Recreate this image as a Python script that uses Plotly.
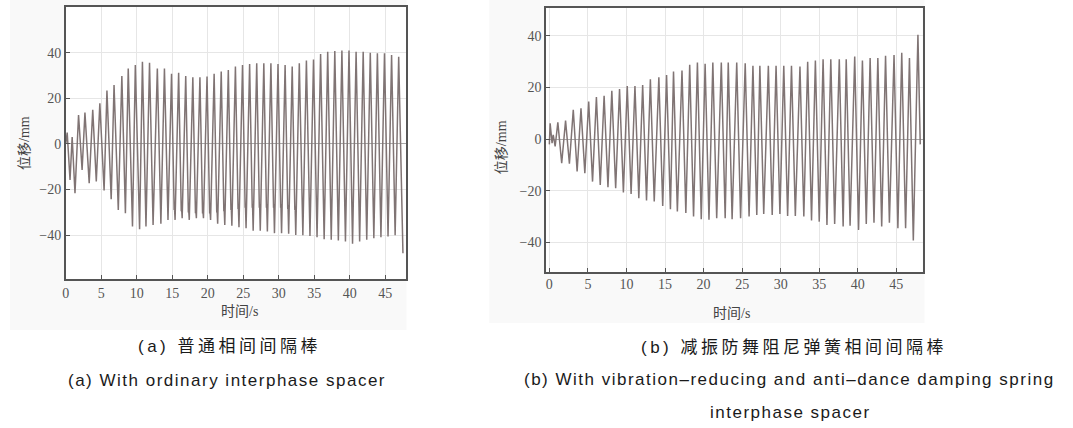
import plotly.graph_objects as go

# ---------------- data ----------------
# (a) ordinary interphase spacer
a_peak_t = [0.2, 0.9, 1.8, 2.7, 3.8, 4.8, 5.8, 6.8, 7.9, 8.8, 9.8, 10.8, 11.8, 12.9, 13.9, 14.9,
            15.9, 16.9, 17.9, 18.9, 19.9, 20.9, 21.9, 22.9, 23.9, 24.9, 25.9, 26.9, 27.9, 28.9,
            29.9, 30.9, 31.9, 32.9, 33.9, 34.9, 35.9, 36.9, 37.9, 38.9, 39.9, 40.9, 41.9, 42.9,
            43.9, 44.9, 45.9, 46.9]
a_peak = [5, 3, 12.7, 13.7, 15, 17.8, 23.4, 25.8, 29.8, 33, 34.6, 36, 35.6, 33, 33, 30.7,
          31.2, 29.8, 29.2, 29.2, 29.5, 30.7, 31.7, 32.4, 33.9, 34.6, 35, 35.3, 35.3, 35.3,
          35, 34.6, 33.9, 35.3, 36.5, 37, 39.4, 40.4, 40.7, 40.9, 40.9, 40.4, 40.4, 40,
          39.7, 39.7, 39, 38.2]
a_trough_t = [0.6, 1.3, 2.3, 3.3, 4.3, 5.4, 6.4, 7.4, 8.4, 9.4, 10.4, 11.3, 12.3, 13.4, 14.4,
              15.4, 16.4, 17.4, 18.4, 19.4, 20.4, 21.4, 22.4, 23.4, 24.4, 25.4, 26.4, 27.4,
              28.4, 29.4, 30.4, 31.4, 32.4, 33.4, 34.4, 35.4, 36.4, 37.4, 38.4, 39.4, 40.4,
              41.4, 42.4, 43.4, 44.4, 45.4, 46.4, 47.5]
a_trough = [-15.8, -21.6, -11.4, -17.2, -16.5, -20.4, -24.2, -28.9, -30.4, -36.2, -37.4, -36.2,
            -35.5, -35, -33.3, -33.3, -32.6, -33.3, -32.6, -32.6, -33.3, -35, -35.5, -35.9,
            -36.5, -36.9, -38, -38, -38.4, -39.1, -39.1, -39.4, -39.9, -40, -40.3, -40.9,
            -41.8, -42, -42.3, -42.8, -43.8, -42.8, -42, -41.3, -40.9, -40.6, -40, -47.9]
# mid-level "shoulder" marks on the rising / falling strokes (None = not visible)
a_rise_shoulder = [None] * 8 + [15.6, 15.6, 15.6, 16, 17.8, 19, 20, 20, 20.7, 21.9, 23, 23.6,
                                22, 20, 19, 18, 17, 16.6, 17, 17.5, 17.8, 18.5, 19, 19.5, 20,
                                20.4, 19.3, 19, 17.5, 16.7, 16, 15.6, 15.6, 15.6, 15.6, 16, 16,
                                None, None, None]
a_fall_shoulder = [None] * 15 + [-29, -29.5, -30, -30.4, -30.5, -30.5, -30, -29.5, -29, -28.5,
                                 -28, -28, -28, -28, -28, -28, -28.5, -29] + [None] * 15
a_ends_t = [0.0]
a_ends = [0.0]

# (b) vibration-reducing and anti-dance damping spring interphase spacer
b_peak_t = [0.1, 0.5, 1.1, 2.1, 3.1, 4.1, 5.1, 6.1, 7.1, 8.1, 9.1, 10.1, 11.1, 12.1, 13.1, 14.2,
            15.2, 16.1, 17.2, 18.2, 19.2, 20.2, 21.2, 22.3, 23.2, 24.3, 25.4, 26.4, 27.3, 28.4,
            29.4, 30.4, 31.4, 32.5, 33.5, 34.5, 35.5, 36.5, 37.6, 38.5, 39.6, 40.6, 41.6, 42.6,
            43.6, 44.7, 45.7, 46.7, 47.8]
b_peak = [6.2, 1.7, 6.5, 7.2, 11.4, 12, 14.6, 16.3, 16.8, 18.8, 19.4, 20.6, 20.6, 21, 23.2, 24,
          24.9, 26.2, 26.6, 28.8, 29.7, 29.2, 29.7, 29.7, 29.7, 29.7, 29.4, 28.4, 28.4, 28.4,
          28.4, 28.4, 28.4, 28.1, 30, 30.5, 31, 31, 31, 31, 32, 30.5, 31.4, 31.4, 32.3, 32.6,
          33.5, 31.4, 40.4]
b_trough_t = [0.35, 0.75, 1.6, 2.6, 3.6, 4.6, 5.6, 6.6, 7.6, 8.6, 9.6, 10.6, 11.6, 12.6, 13.6,
              14.7, 15.7, 16.6, 17.7, 18.7, 19.7, 20.7, 21.7, 22.8, 23.7, 24.8, 25.9, 26.9,
              27.8, 28.9, 29.9, 30.9, 31.9, 33.0, 34.0, 35.0, 36.0, 37.0, 38.1, 39.0, 40.1,
              41.1, 42.1, 43.1, 44.1, 45.2, 46.2, 47.2]
b_trough = [-1.5, -2.8, -9.3, -9.5, -12.5, -13.2, -16.4, -17.7, -18.6, -19, -20.6, -21.2, -22.8,
            -23.7, -24.1, -25.8, -27.1, -28, -28.6, -29.9, -31, -31.2, -30.6, -30.6, -31, -30.6,
            -29.9, -29.3, -28.9, -29.3, -28.9, -29.7, -29.7, -29.9, -31.5, -31.9, -33.2, -32.8,
            -33.8, -33.5, -35.1, -32.8, -32.3, -33.8, -32.3, -34.5, -34.5, -39.2]
b_ends_t = [0.0, 48.1]
b_ends = [-2.0, -2.0]

x_ticks = [0, 5, 10, 15, 20, 25, 30, 35, 40, 45]
y_ticks = [-40, -20, 0, 20, 40]
x_title = "时间/s"
y_title = "位移/mm"
cap_a_cn = "(a) 普通相间间隔棒"
cap_a_en = "(a) With ordinary interphase spacer"
cap_b_cn = "(b) 减振防舞阻尼弹簧相间间隔棒"
cap_b_en = "(b) With vibration–reducing and anti–dance damping spring"
cap_b_en2 = "interphase spacer"

# ---------------- build the traces ----------------
def merge(groups):
    pts = []
    for ts, vs in groups:
        for t, v in zip(ts, vs):
            if v is not None:
                pts.append((t, v))
    pts.sort()
    return [p[0] for p in pts], [p[1] for p in pts]


def shoulder_pts(times, vals, sign):
    ts, vs = [], []
    for t, v in zip(times, vals):
        if v is None:
            continue
        ts += [t - 0.13, t - 0.09]
        vs += [v, v - sign * 1.6]
    return ts, vs


rs_t, rs_v = shoulder_pts(a_peak_t, a_rise_shoulder, 1)
fs_t, fs_v = shoulder_pts(a_trough_t, a_fall_shoulder, -1)
ax_t, ax_v = merge([(a_peak_t, a_peak), (a_trough_t, a_trough), (rs_t, rs_v), (fs_t, fs_v),
                    (a_ends_t, a_ends)])
bx_t, bx_v = merge([(b_peak_t, b_peak), (b_trough_t, b_trough), (b_ends_t, b_ends)])

W, H = 1073, 428
line_col = "#807474"

fig = go.Figure()
fig.add_trace(go.Scatter(x=ax_t, y=ax_v, mode="lines", xaxis="x", yaxis="y",
                         line=dict(color=line_col, width=1.5), showlegend=False))
fig.add_trace(go.Scatter(x=bx_t, y=bx_v, mode="lines", xaxis="x2", yaxis="y2",
                         line=dict(color=line_col, width=1.5), showlegend=False))

tick_font = dict(family="Liberation Serif, Times New Roman, serif", size=14, color="#555555")
common_x = dict(tickvals=x_ticks, showgrid=True, gridcolor="#e6e6e6", gridwidth=1,
                showline=True, linecolor="#555555", linewidth=1.5, mirror=True,
                ticks="inside", ticklen=4, tickcolor="#555555", tickfont=tick_font,
                zeroline=False)
common_y = dict(tickvals=y_ticks, showgrid=True, gridcolor="#e6e6e6", gridwidth=1,
                showline=True, linecolor="#555555", linewidth=1.5, mirror=True,
                ticks="inside", ticklen=4, tickcolor="#555555", tickfont=tick_font,
                zeroline=True, zerolinecolor="#a8a8a8", zerolinewidth=1)

def px(x):
    return x / W


def py(y):
    return 1 - y / H


def panel(x0, x1, y0, y1, color):
    return dict(type="rect", xref="paper", yref="paper", x0=px(x0), x1=px(x1),
                y0=py(y1), y1=py(y0), fillcolor=color, line=dict(width=0), layer="below")


fig.update_layout(
    width=W, height=H,
    margin=dict(l=0, r=0, t=0, b=0),
    paper_bgcolor="white", plot_bgcolor="white",
    xaxis=dict(common_x, domain=[px(62), px(404)], range=[0, 48], anchor="y"),
    yaxis=dict(common_y, domain=[py(279), py(7)], range=[-59.2, 60], anchor="x"),
    xaxis2=dict(common_x, domain=[px(544), px(922)], range=[-0.44, 48.4], anchor="y2",
                ticklabelstandoff=-2),
    yaxis2=dict(common_y, domain=[py(272), py(8)], range=[-51.4, 50.8], anchor="x2"),
    shapes=[
        panel(6, 404, 0, 330, "#f9f9f9"),
        panel(487, 924, 0, 323, "#f9f9f9"),
        panel(62, 404, 7, 279, "white"),
        panel(544, 922, 8, 272, "white"),
    ],
)

title_font = dict(family="Liberation Serif, Noto Sans CJK SC, serif", size=14, color="#444444")
cap_font = dict(family="Liberation Sans, Arial, Noto Sans CJK SC, sans-serif", size=17,
                color="#1a1a1a")

def ann(text, x, y, font, angle=0):
    fig.add_annotation(text=text, x=px(x), y=py(y), xref="paper", yref="paper",
                       showarrow=False, font=font, textangle=angle,
                       xanchor="center", yanchor="middle")


ann(x_title, 236, 311, title_font)
ann(x_title, 730, 313, title_font)
ann(y_title, 20, 143, title_font, -90)
ann(y_title, 499, 147, title_font, -90)

sp_cn = '<span style="letter-spacing:3.5px">{}</span>'
sp_en = '<span style="letter-spacing:1.5px">{}</span>'
ann(sp_cn.format(cap_a_cn), 226, 346, cap_font)
ann(sp_en.format(cap_a_en), 224, 380, cap_font)
ann(sp_cn.format(cap_b_cn), 793, 347, cap_font)
ann(sp_en.format(cap_b_en), 788, 379, cap_font)
ann(sp_en.format(cap_b_en2), 789, 412, cap_font)

fig.write_html("out.html", config={"displayModeBar": False},
               post_script="document.body.style.margin='0';")
